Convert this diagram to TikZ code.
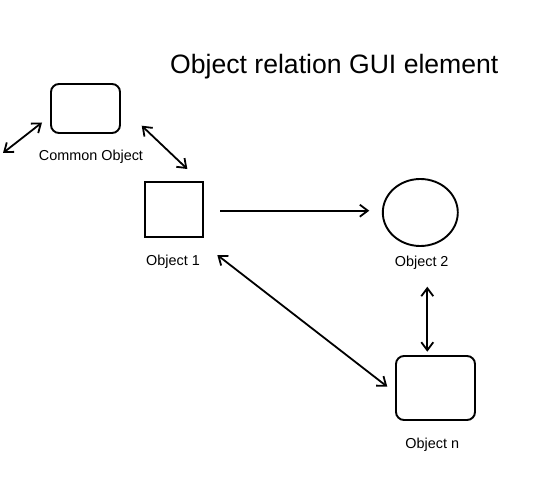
\documentclass[tikz,border=0pt]{standalone}
\usepackage{fontspec}
\setmainfont{Liberation Sans}
\usetikzlibrary{shapes.geometric,arrows.meta}
\begin{document}
\begin{tikzpicture}[x=1pt,y=-1pt,
  shapebox/.style={draw,line width=1.9pt,inner sep=0pt},
  lbl/.style={anchor=base,inner sep=0pt,font=\fontsize{14.4}{16}\selectfont},
  conn/.style={line width=1.8pt,{Straight Barb[length=8pt,width=12pt,line width=1.8pt]}-{Straight Barb[length=8pt,width=12pt,line width=1.8pt]}},
  oneway/.style={line width=1.8pt,-{Straight Barb[length=8pt,width=12pt,line width=1.8pt]}}]
\useasboundingbox (0,0) rectangle (540,497);
\fill[white] (0,0) rectangle (540,497);
\node[anchor=base west,inner sep=0pt,font=\fontsize{26.6}{30}\selectfont] (title) at (170,73.3) {Object relation GUI element};
\node[shapebox,rounded corners=8pt,minimum width=69pt,minimum height=49pt] (co) at (85.5,108.5) {};
\node[lbl] (colbl) at (91,160.7) {Common Object};
\node[shapebox,minimum width=58.6pt,minimum height=55.3pt] (o1) at (174,209.5) {};
\node[lbl] (o1lbl) at (173,265) {Object 1};
\node[shapebox,ellipse,minimum width=75pt,minimum height=67pt] (o2) at (420.3,212.5) {};
\node[lbl] (o2lbl) at (421.7,266.7) {Object 2};
\node[shapebox,rounded corners=8pt,minimum width=79pt,minimum height=64pt] (on) at (435.5,388) {};
\node[lbl] (onlbl) at (432.3,448.3) {Object n};
\coordinate (f1) at (3,153);
\coordinate (f2) at (42,122.5);
\coordinate (c1) at (141.7,125.7);
\coordinate (c2) at (187.3,169);
\coordinate (r1) at (220,210.7);
\coordinate (r2) at (369.3,210.7);
\coordinate (d1) at (217.3,255);
\coordinate (d2) at (387.3,386.7);
\coordinate (v1) at (427.3,286.7);
\coordinate (v2) at (427.3,351.7);
\draw[conn] (f1) -- (f2);
\draw[conn] (c1) -- (c2);
\draw[oneway] (r1) -- (r2);
\draw[conn] (d1) -- (d2);
\draw[conn] (v1) -- (v2);
\end{tikzpicture}
\end{document}
